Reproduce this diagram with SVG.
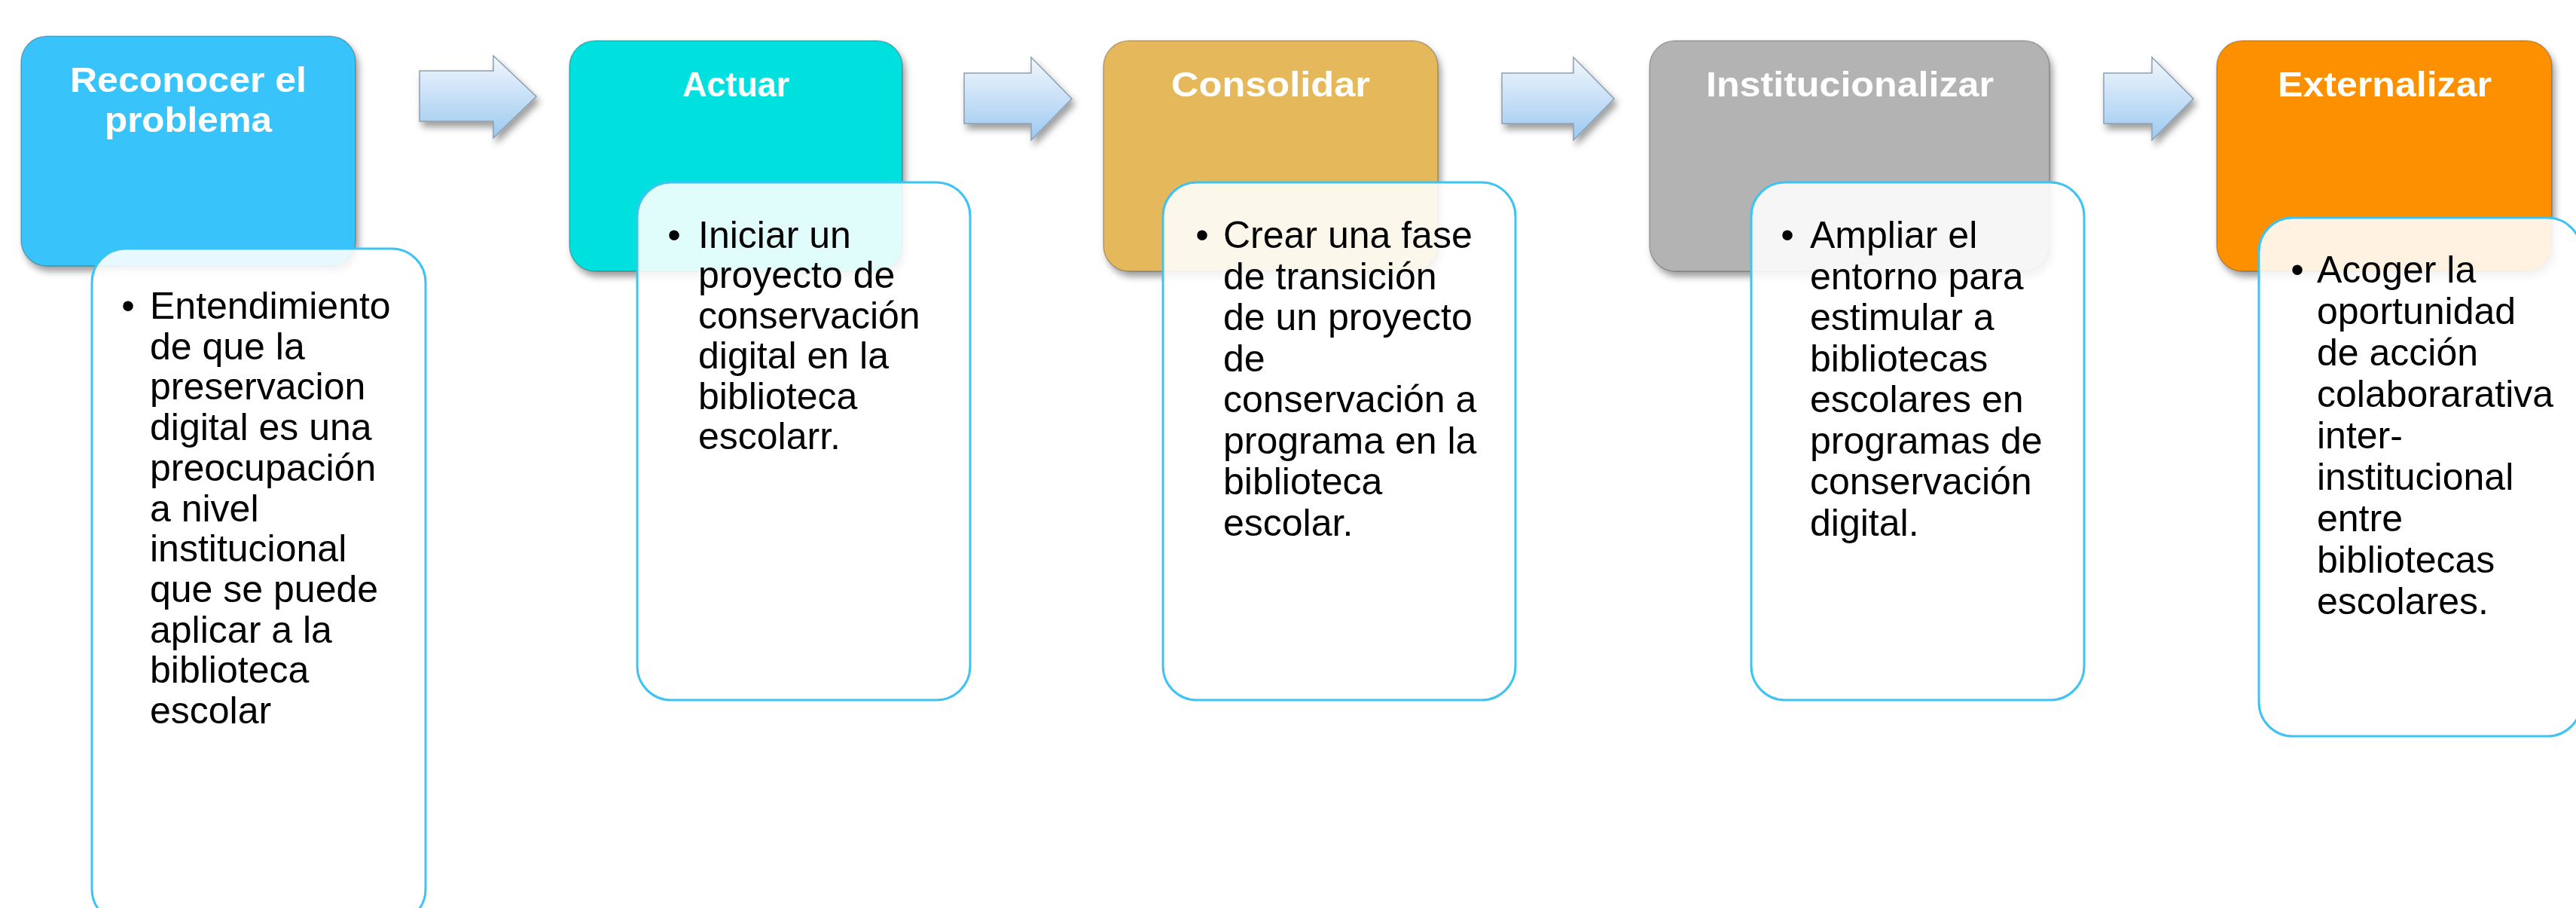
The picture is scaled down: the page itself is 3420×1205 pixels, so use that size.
<svg xmlns="http://www.w3.org/2000/svg" width="3420" height="1205" viewBox="0 0 3420 1205">
  <defs>
    <filter id="shadow" x="-10%" y="-10%" width="125%" height="130%">
      <feDropShadow dx="4" dy="7" stdDeviation="5" flood-color="#000" flood-opacity="0.38"/>
    </filter>
    <linearGradient id="arrowGrad" x1="0" y1="0" x2="0" y2="1">
      <stop offset="0" stop-color="#F2F7FD"/>
      <stop offset="1" stop-color="#9CC9F0"/>
    </linearGradient>
  </defs>
  <style>
    .box { stroke: rgba(0,0,0,0.25); stroke-width: 1.5; filter: url(#shadow); }
    .tbox { fill: #FFFFFF; fill-opacity: 0.88; stroke: #3EC3F5; stroke-width: 3; }
    .title { font-family: "Liberation Sans", Arial, sans-serif; font-weight: bold; font-size: 47px; fill: #FFFFFF; text-anchor: middle; }
    .body { font-family: "Liberation Sans", Arial, sans-serif; font-size: 50px; fill: #000000; }
    .bullet { font-family: "Liberation Sans", Arial, sans-serif; font-size: 50px; fill: #000000; text-anchor: middle; }
    .arrow { fill: url(#arrowGrad); stroke: #8E9EAE; stroke-width: 1.5; filter: url(#shadow); }
  </style>

  <g id="connectors">
    <path class="arrow" d="M557,94 H655 V74 L712,128 L655,183 V161 H557 Z"/>
    <path class="arrow" d="M1280,97 H1369 V76 L1423,131 L1369,186 V164 H1280 Z"/>
    <path class="arrow" d="M1994,97 H2089 V76 L2143,131 L2089,186 V164 H1994 Z"/>
    <path class="arrow" d="M2793,97 H2857 V76 L2912,131 L2857,186 V164 H2793 Z"/>
  </g>

  <g id="node-reconocer">
    <rect class="box" x="28" y="48" width="444" height="305" rx="34" fill="#38C4FA"/>
    <text class="title" x="250" y="122" textLength="314" lengthAdjust="spacingAndGlyphs">Reconocer el</text>
    <text class="title" x="250" y="175" textLength="222" lengthAdjust="spacingAndGlyphs">problema</text>
    <rect class="tbox" x="122" y="330" width="443" height="895" rx="45"/>
    <text class="bullet" x="170" y="423">•</text>
    <text class="body" x="199" y="423">
      <tspan x="199" dy="0">Entendimiento</tspan>
      <tspan x="199" dy="53.7">de que la</tspan>
      <tspan x="199" dy="53.7">preservacion</tspan>
      <tspan x="199" dy="53.7">digital es una</tspan>
      <tspan x="199" dy="53.7">preocupación</tspan>
      <tspan x="199" dy="53.7">a nivel</tspan>
      <tspan x="199" dy="53.7">institucional</tspan>
      <tspan x="199" dy="53.7">que se puede</tspan>
      <tspan x="199" dy="53.7">aplicar a la</tspan>
      <tspan x="199" dy="53.7">biblioteca</tspan>
      <tspan x="199" dy="53.7">escolar</tspan>
    </text>
  </g>

  <g id="node-actuar">
    <rect class="box" x="756" y="54" width="442" height="306" rx="34" fill="#02E0DF"/>
    <text class="title" x="977" y="128" textLength="142" lengthAdjust="spacingAndGlyphs">Actuar</text>
    <rect class="tbox" x="846" y="242" width="442" height="687" rx="45"/>
    <text class="bullet" x="895" y="329">•</text>
    <text class="body" x="927" y="329">
      <tspan x="927" dy="0">Iniciar un</tspan>
      <tspan x="927" dy="53.4">proyecto de</tspan>
      <tspan x="927" dy="53.4">conservación</tspan>
      <tspan x="927" dy="53.4">digital en la</tspan>
      <tspan x="927" dy="53.4">biblioteca</tspan>
      <tspan x="927" dy="53.4">escolarr.</tspan>
    </text>
  </g>

  <g id="node-consolidar">
    <rect class="box" x="1465" y="54" width="444" height="306" rx="34" fill="#E5B85C"/>
    <text class="title" x="1687" y="128" textLength="264" lengthAdjust="spacingAndGlyphs">Consolidar</text>
    <rect class="tbox" x="1544" y="242" width="468" height="687" rx="45"/>
    <text class="bullet" x="1596" y="329">•</text>
    <text class="body" x="1624" y="329">
      <tspan x="1624" dy="0">Crear una fase</tspan>
      <tspan x="1624" dy="54.5">de transición</tspan>
      <tspan x="1624" dy="54.5">de un proyecto</tspan>
      <tspan x="1624" dy="54.5">de</tspan>
      <tspan x="1624" dy="54.5">conservación a</tspan>
      <tspan x="1624" dy="54.5">programa en la</tspan>
      <tspan x="1624" dy="54.5">biblioteca</tspan>
      <tspan x="1624" dy="54.5">escolar.</tspan>
    </text>
  </g>

  <g id="node-institucionalizar">
    <rect class="box" x="2190" y="54" width="531" height="306" rx="34" fill="#B3B3B3"/>
    <text class="title" x="2456" y="128" textLength="382" lengthAdjust="spacingAndGlyphs">Institucionalizar</text>
    <rect class="tbox" x="2325" y="242" width="442" height="687" rx="45"/>
    <text class="bullet" x="2373" y="329">•</text>
    <text class="body" x="2403" y="329">
      <tspan x="2403" dy="0">Ampliar el</tspan>
      <tspan x="2403" dy="54.5">entorno para</tspan>
      <tspan x="2403" dy="54.5">estimular a</tspan>
      <tspan x="2403" dy="54.5">bibliotecas</tspan>
      <tspan x="2403" dy="54.5">escolares en</tspan>
      <tspan x="2403" dy="54.5">programas de</tspan>
      <tspan x="2403" dy="54.5">conservación</tspan>
      <tspan x="2403" dy="54.5">digital.</tspan>
    </text>
  </g>

  <g id="node-externalizar">
    <rect class="box" x="2943" y="54" width="445" height="306" rx="34" fill="#FD9001"/>
    <text class="title" x="3166" y="128" textLength="284" lengthAdjust="spacingAndGlyphs">Externalizar</text>
    <rect class="tbox" x="2999" y="289" width="428" height="688" rx="45"/>
    <text class="bullet" x="3050" y="375">•</text>
    <text class="body" x="3076" y="375">
      <tspan x="3076" dy="0">Acoger la</tspan>
      <tspan x="3076" dy="55">oportunidad</tspan>
      <tspan x="3076" dy="55">de acción</tspan>
      <tspan x="3076" dy="55">colaborarativa</tspan>
      <tspan x="3076" dy="55">inter-</tspan>
      <tspan x="3076" dy="55">institucional</tspan>
      <tspan x="3076" dy="55">entre</tspan>
      <tspan x="3076" dy="55">bibliotecas</tspan>
      <tspan x="3076" dy="55">escolares.</tspan>
    </text>
  </g>
</svg>
